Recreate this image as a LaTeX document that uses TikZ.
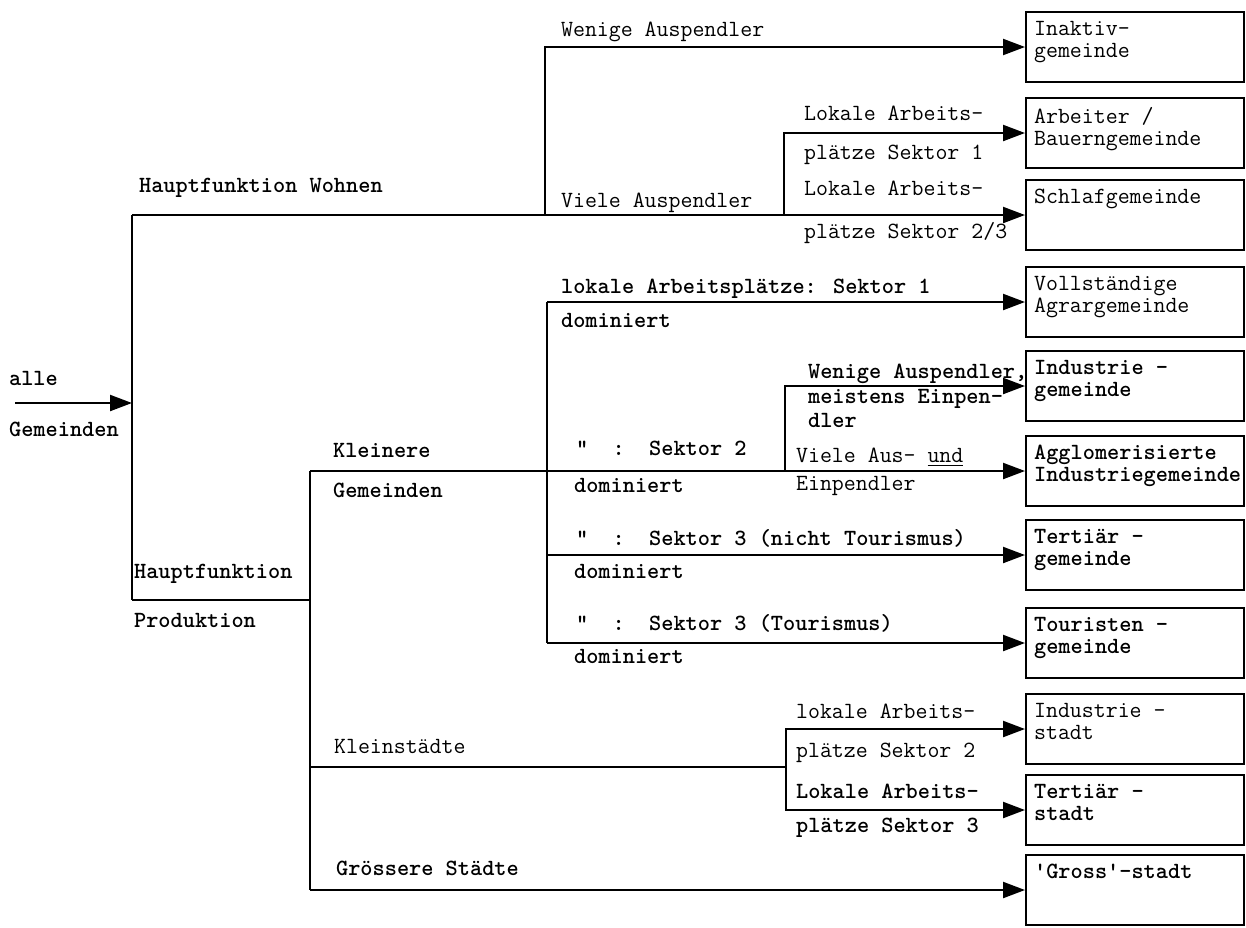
\documentclass[tikz,border=0pt]{standalone}
\usepackage{fontspec}
\usetikzlibrary{arrows.meta}
\newcommand{\boxtxt}[1]{\parbox[t][26pt][t]{101pt}{\raggedright #1}}
\begin{document}
\begin{tikzpicture}[x=0.5pt,y=-0.5pt,line width=1.1pt,
	font=\ttfamily\fontsize{11.6}{11.2}\selectfont,
	lab/.style={anchor=base west,inner sep=0pt},
	blab/.style={lab,font=\ttfamily\fontsize{11.6}{11.2}\selectfont\bfseries},
	gem/.style={draw,anchor=west,inner sep=4pt,minimum height=35pt},
	bgem/.style={gem,font=\ttfamily\fontsize{11.6}{11.2}\selectfont\bfseries},
	arr/.style={-{Triangle[length=11pt,width=8pt]}}]
	\useasboundingbox (0,0) rectangle (1246,927);
	% branch points
	\coordinate (start) at (15,403);
	\coordinate (root) at (132,403);
	\coordinate (wo) at (132,215);
	\coordinate (pr) at (132,600);
	\coordinate (wa) at (545,215);
	\coordinate (va) at (784,215);
	\coordinate (kg) at (310,471);
	\coordinate (pk) at (310,600);
	\coordinate (ks) at (310,767);
	\coordinate (gs) at (310,890);
	\coordinate (s1) at (547,302);
	\coordinate (s2) at (785,471);
	\coordinate (s3) at (547,555);
	\coordinate (s4) at (547,643);
	\coordinate (kl) at (786,767);
	% Gemeindetypen
	\node[gem] (inaktiv) at (1025,47) {\boxtxt{Inaktiv-\\gemeinde}};
	\node[gem] (bauer) at (1025,133) {\boxtxt{Arbeiter /\\Bauerngemeinde}};
	\node[gem] (schlaf) at (1025,215) {\boxtxt{Schlafgemeinde}};
	\node[gem] (agrar) at (1025,302) {\boxtxt{Vollständige\\Agrargemeinde}};
	\node[bgem] (indg) at (1025,386) {\boxtxt{Industrie -\\gemeinde}};
	\node[bgem] (agglo) at (1025,471) {\boxtxt{Agglomerisierte\\Industriegemeinde}};
	\node[bgem] (tertg) at (1025,555) {\boxtxt{Tertiär -\\gemeinde}};
	\node[bgem] (tourg) at (1025,643) {\boxtxt{Touristen -\\gemeinde}};
	\node[gem] (inds) at (1025,729) {\boxtxt{Industrie -\\stadt}};
	\node[bgem] (terts) at (1025,810) {\boxtxt{Tertiär -\\stadt}};
	\node[bgem] (gross) at (1025,890) {\boxtxt{'Gross'-stadt}};
	% Verzweigungen
	\draw[arr] (start) -- (root);
	\draw (wo) -- (pr);
	\draw[arr] (wo) -- (wo -| schlaf.west);
	\draw[arr] (wa) |- (inaktiv.west);
	\draw[arr] (va) |- (bauer.west);
	\draw (pr) -- (pk);
	\draw (kg) -- (gs);
	\draw[arr] (kg) -- (kg -| agglo.west);
	\draw (s1) -- (s4);
	\draw[arr] (s1) -- (s1 -| agrar.west);
	\draw[arr] (s2) |- (indg.west);
	\draw[arr] (s3) -- (s3 -| tertg.west);
	\draw[arr] (s4) -- (s4 -| tourg.west);
	\draw (ks) -- (kl);
	\draw[arr] (kl) |- (inds.west);
	\draw[arr] (kl) |- (terts.west);
	\draw[arr] (gs) -- (gs -| gross.west);
	% Beschriftungen
	\node[blab] (alle) at (8,385) {alle};
	\node[blab] (gemeinden) at (8,436) {Gemeinden};
	\node[blab] (wohnen) at (138,192) {Hauptfunktion Wohnen};
	\node[lab] (wenig) at (560,36) {Wenige Auspendler};
	\node[lab] (viele) at (560,207) {Viele Auspendler};
	\node[lab] (lok1a) at (803,120) {Lokale Arbeits-};
	\node[lab] (lok1b) at (803,159) {plätze Sektor 1};
	\node[lab] (lok2a) at (803,195) {Lokale Arbeits-};
	\node[lab] (lok2b) at (803,238) {plätze Sektor 2/3};
	\node[blab] (haupt) at (133,578) {Hauptfunktion};
	\node[blab] (prod) at (133,627) {Produktion};
	\node[blab] (klein) at (332,457) {Kleinere};
	\node[blab] (kleingem) at (332,497) {Gemeinden};
	\node[blab] (sek1) at (560,293) {lokale Arbeitsplätze: Sektor 1};
	\node[blab] (dom1) at (560,327) {dominiert};
	\node[blab] (wenig2a) at (807,378) {Wenige Auspendler,};
	\node[blab] (wenig2b) at (807,403) {meistens Einpen-};
	\node[blab] (wenig2c) at (807,427) {dler};
	\node[blab] (sek2) at (575,455) {"~~:~~Sektor 2};
	\node[blab] (dom2) at (573,492) {dominiert};
	\node[lab] (ausein) at (795,462) {Viele Aus- \underline{und}};
	\node[lab] (ein) at (795,490) {Einpendler};
	\node[blab] (sek3) at (575,545) {"~~:~~Sektor 3 (nicht Tourismus)};
	\node[blab] (dom3) at (573,578) {dominiert};
	\node[blab] (sek4) at (575,630) {"~~:~~Sektor 3 (Tourismus)};
	\node[blab] (dom4) at (573,663) {dominiert};
	\node[lab] (kst) at (333,753) {Kleinstädte};
	\node[blab] (gst) at (335,875) {Grössere Städte};
	\node[lab] (lok3a) at (795,718) {lokale Arbeits-};
	\node[lab] (lok3b) at (795,757) {plätze Sektor 2};
	\node[blab] (lok4a) at (795,798) {Lokale Arbeits-};
	\node[blab] (lok4b) at (795,832) {plätze Sektor 3};
\end{tikzpicture}
\end{document}
